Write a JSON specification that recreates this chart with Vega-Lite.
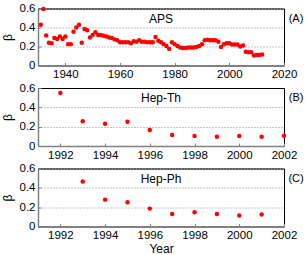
{
  "$schema": "https://vega.github.io/schema/vega-lite/v6.json",
  "padding": {"left": 0, "top": 1.5, "right": 0, "bottom": 0},
  "background": "white",
  "datasets": {
    "aps": [
      {"year": 1931, "beta": 0.43}, {"year": 1932, "beta": 0.595}, {"year": 1933, "beta": 0.316},
      {"year": 1934, "beta": 0.24}, {"year": 1935, "beta": 0.235}, {"year": 1936, "beta": 0.29},
      {"year": 1937, "beta": 0.28}, {"year": 1938, "beta": 0.305}, {"year": 1939, "beta": 0.28},
      {"year": 1940, "beta": 0.305}, {"year": 1941, "beta": 0.225}, {"year": 1942, "beta": 0.225},
      {"year": 1943, "beta": 0.355}, {"year": 1944, "beta": 0.4}, {"year": 1945, "beta": 0.43},
      {"year": 1946, "beta": 0.24}, {"year": 1947, "beta": 0.385}, {"year": 1948, "beta": 0.37},
      {"year": 1949, "beta": 0.295}, {"year": 1950, "beta": 0.32}, {"year": 1951, "beta": 0.35},
      {"year": 1952, "beta": 0.32}, {"year": 1953, "beta": 0.32}, {"year": 1954, "beta": 0.313},
      {"year": 1955, "beta": 0.305}, {"year": 1956, "beta": 0.295}, {"year": 1957, "beta": 0.29},
      {"year": 1958, "beta": 0.275}, {"year": 1959, "beta": 0.265}, {"year": 1960, "beta": 0.245},
      {"year": 1961, "beta": 0.245}, {"year": 1962, "beta": 0.245}, {"year": 1963, "beta": 0.245},
      {"year": 1964, "beta": 0.235}, {"year": 1965, "beta": 0.255}, {"year": 1966, "beta": 0.25},
      {"year": 1967, "beta": 0.265}, {"year": 1968, "beta": 0.25}, {"year": 1969, "beta": 0.25},
      {"year": 1970, "beta": 0.245}, {"year": 1971, "beta": 0.245}, {"year": 1972, "beta": 0.245},
      {"year": 1973, "beta": 0.3}, {"year": 1974, "beta": 0.26}, {"year": 1975, "beta": 0.245},
      {"year": 1976, "beta": 0.225}, {"year": 1977, "beta": 0.205}, {"year": 1978, "beta": 0.175},
      {"year": 1979, "beta": 0.245}, {"year": 1980, "beta": 0.225}, {"year": 1981, "beta": 0.205},
      {"year": 1982, "beta": 0.19}, {"year": 1983, "beta": 0.185}, {"year": 1984, "beta": 0.185},
      {"year": 1985, "beta": 0.19}, {"year": 1986, "beta": 0.19}, {"year": 1987, "beta": 0.19},
      {"year": 1988, "beta": 0.195}, {"year": 1989, "beta": 0.205}, {"year": 1990, "beta": 0.225},
      {"year": 1991, "beta": 0.265}, {"year": 1992, "beta": 0.27}, {"year": 1993, "beta": 0.265},
      {"year": 1994, "beta": 0.265}, {"year": 1995, "beta": 0.265}, {"year": 1996, "beta": 0.25},
      {"year": 1997, "beta": 0.195}, {"year": 1998, "beta": 0.225}, {"year": 1999, "beta": 0.235},
      {"year": 2000, "beta": 0.235}, {"year": 2001, "beta": 0.22}, {"year": 2002, "beta": 0.22},
      {"year": 2003, "beta": 0.22}, {"year": 2004, "beta": 0.2}, {"year": 2005, "beta": 0.21},
      {"year": 2006, "beta": 0.145}, {"year": 2007, "beta": 0.14}, {"year": 2008, "beta": 0.14},
      {"year": 2009, "beta": 0.105}, {"year": 2010, "beta": 0.11}, {"year": 2011, "beta": 0.11},
      {"year": 2012, "beta": 0.115}
    ],
    "hepth": [
      {"year": 1992, "beta": 0.549}, {"year": 1993, "beta": 0.257}, {"year": 1994, "beta": 0.23},
      {"year": 1995, "beta": 0.25}, {"year": 1996, "beta": 0.165}, {"year": 1997, "beta": 0.113},
      {"year": 1998, "beta": 0.103}, {"year": 1999, "beta": 0.096}, {"year": 2000, "beta": 0.103},
      {"year": 2001, "beta": 0.096}, {"year": 2002, "beta": 0.106}
    ],
    "hepph": [
      {"year": 1993, "beta": 0.466}, {"year": 1994, "beta": 0.278}, {"year": 1995, "beta": 0.25},
      {"year": 1996, "beta": 0.185}, {"year": 1997, "beta": 0.13}, {"year": 1998, "beta": 0.147},
      {"year": 1999, "beta": 0.13}, {"year": 2000, "beta": 0.113}, {"year": 2001, "beta": 0.123}
    ]
  },
  "bounds": "flush",
  "spacing": 22.5,
  "vconcat": [
    {
      "width": 246, "height": 57,
      "layer": [
        {
          "data": {"name": "aps"},
          "mark": {"type": "circle", "size": 20, "color": "#ff0000", "opacity": 1},
          "encoding": {
            "x": {"field": "year", "type": "quantitative", "scale": {"domain": [1930, 2020], "nice": false, "zero": false},
                  "axis": {"title": null, "values": [1940, 1960, 1980, 2000, 2020], "format": "d"}},
            "y": {"field": "beta", "type": "quantitative", "scale": {"domain": [0, 0.6], "nice": false},
                  "axis": {"title": "β", "values": [0, 0.2, 0.4, 0.6], "format": ".1~f"}}
          }
        },
        {
          "data": {"values": [{}]},
          "mark": {"type": "text", "text": "APS", "fontSize": 12, "font": "Liberation Sans", "color": "black"},
          "encoding": {
            "x": {"datum": 1975, "type": "quantitative", "axis": {"title": null, "values": [1940, 1960, 1980, 2000, 2020], "format": "d"}},
            "y": {"datum": 0.49, "type": "quantitative", "axis": {"title": "β", "values": [0, 0.2, 0.4, 0.6], "format": ".1~f"}}
          }
        },
        {
          "data": {"values": [{}]},
          "mark": {"type": "text", "text": "(A)", "fontSize": 11, "font": "Liberation Sans", "color": "black"},
          "encoding": {
            "x": {"datum": 2024.4, "type": "quantitative", "axis": {"title": null, "values": [1940, 1960, 1980, 2000, 2020], "format": "d"}},
            "y": {"datum": 0.49, "type": "quantitative", "axis": {"title": "β", "values": [0, 0.2, 0.4, 0.6], "format": ".1~f"}}
          }
        }
      ]
    },
    {
      "width": 246, "height": 58,
      "layer": [
        {
          "data": {"name": "hepth"},
          "mark": {"type": "circle", "size": 20, "color": "#ff0000", "opacity": 1},
          "encoding": {
            "x": {"field": "year", "type": "quantitative", "scale": {"domain": [1991, 2002], "nice": false, "zero": false},
                  "axis": {"title": null, "values": [1992, 1994, 1996, 1998, 2000, 2002], "format": "d"}},
            "y": {"field": "beta", "type": "quantitative", "scale": {"domain": [0, 0.6], "nice": false},
                  "axis": {"title": "β", "values": [0, 0.2, 0.4, 0.6], "format": ".1~f"}}
          }
        },
        {
          "data": {"values": [{}]},
          "mark": {"type": "text", "text": "Hep-Th", "fontSize": 12, "font": "Liberation Sans", "color": "black"},
          "encoding": {
            "x": {"datum": 1996.5, "type": "quantitative", "axis": {"title": null, "values": [1992, 1994, 1996, 1998, 2000, 2002], "format": "d"}},
            "y": {"datum": 0.494, "type": "quantitative", "axis": {"title": "β", "values": [0, 0.2, 0.4, 0.6], "format": ".1~f"}}
          }
        },
        {
          "data": {"values": [{}]},
          "mark": {"type": "text", "text": "(B)", "fontSize": 11, "font": "Liberation Sans", "color": "black"},
          "encoding": {
            "x": {"datum": 2002.54, "type": "quantitative", "axis": {"title": null, "values": [1992, 1994, 1996, 1998, 2000, 2002], "format": "d"}},
            "y": {"datum": 0.494, "type": "quantitative", "axis": {"title": "β", "values": [0, 0.2, 0.4, 0.6], "format": ".1~f"}}
          }
        }
      ]
    },
    {
      "width": 246, "height": 58,
      "layer": [
        {
          "data": {"name": "hepph"},
          "mark": {"type": "circle", "size": 20, "color": "#ff0000", "opacity": 1},
          "encoding": {
            "x": {"field": "year", "type": "quantitative", "scale": {"domain": [1991, 2002], "nice": false, "zero": false},
                  "axis": {"title": "Year", "values": [1992, 1994, 1996, 1998, 2000, 2002], "format": "d"}},
            "y": {"field": "beta", "type": "quantitative", "scale": {"domain": [0, 0.6], "nice": false},
                  "axis": {"title": "β", "values": [0, 0.2, 0.4, 0.6], "format": ".1~f"}}
          }
        },
        {
          "data": {"values": [{}]},
          "mark": {"type": "text", "text": "Hep-Ph", "fontSize": 12, "font": "Liberation Sans", "color": "black"},
          "encoding": {
            "x": {"datum": 1996.5, "type": "quantitative", "axis": {"title": "Year", "values": [1992, 1994, 1996, 1998, 2000, 2002], "format": "d"}},
            "y": {"datum": 0.49, "type": "quantitative", "axis": {"title": "β", "values": [0, 0.2, 0.4, 0.6], "format": ".1~f"}}
          }
        },
        {
          "data": {"values": [{}]},
          "mark": {"type": "text", "text": "(C)", "fontSize": 11, "font": "Liberation Sans", "color": "black"},
          "encoding": {
            "x": {"datum": 2002.54, "type": "quantitative", "axis": {"title": "Year", "values": [1992, 1994, 1996, 1998, 2000, 2002], "format": "d"}},
            "y": {"datum": 0.49, "type": "quantitative", "axis": {"title": "β", "values": [0, 0.2, 0.4, 0.6], "format": ".1~f"}}
          }
        }
      ]
    }
  ],
  "config": {
    "font": "Liberation Sans",
    "view": {"stroke": "black", "strokeWidth": 1},
    "axis": {
      "labelFont": "Liberation Sans", "labelFontSize": 11.5, "labelColor": "black",
      "titleFont": "Liberation Sans", "titleFontSize": 12, "titleFontWeight": "normal", "titleColor": "black",
      "domainColor": "#808080", "domainWidth": 1.5, "tickColor": "#808080", "tickSize": -3, "labelPadding": 6,
      "labelFlush": false, "labelOverlap": false, "labelBound": false
    },
    "axisX": {"grid": false, "titlePadding": 2},
    "axisY": {
      "grid": true, "gridDash": [1, 2], "gridWidth": 1,
      "gridColor": {"condition": {"test": "datum.value >= 0.59", "value": "black"}, "value": "#8c8c8c"},
      "titlePadding": 5
    }
  }
}
